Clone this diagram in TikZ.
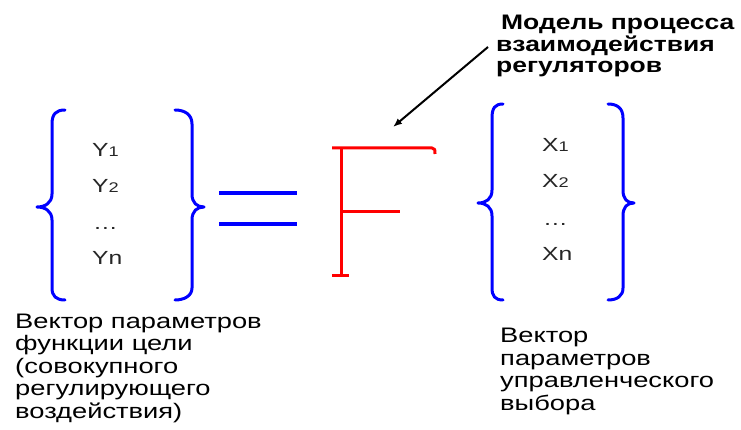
\documentclass[tikz,border=0pt]{standalone}
\usepackage{fontspec}
\setmainfont{Liberation Sans}[FakeStretch=1.3]
\newfontfamily\titlefont{Liberation Sans}[FakeStretch=1.26]
\usetikzlibrary{arrows.meta}
\begin{document}
\begin{tikzpicture}[x=1pt,y=-1pt,
  brace/.style={draw=blue,line width=3pt,line cap=round,line join=round},
  fline/.style={draw=red,line width=3pt},
  eqline/.style={draw=blue,line width=3.5pt},
  vec/.style={inner sep=0pt,anchor=base west,font=\fontsize{19}{19}\selectfont,text=black!85},
  lbl/.style={inner sep=0pt,anchor=base west,align=left,font=\fontsize{21}{22.5}\selectfont},
  ttl/.style={inner sep=0pt,anchor=base west,align=left,font=\titlefont\fontsize{21}{21.5}\selectfont\bfseries}]
\useasboundingbox (0,0) rectangle (741,430);
\newcommand{\smallsub}[1]{{\fontsize{14}{14}\selectfont #1}}
% left vector braces
\draw[brace] (65,110) .. controls (56,110) and (52,114) .. (52,124) -- (52,194)
  .. controls (52,203) and (45,207) .. (37,207) .. controls (45,207) and (52,211) .. (52,220)
  -- (52,288) .. controls (52,296) and (56,300) .. (65,300);
\draw[brace] (175,110) .. controls (184,110) and (192,114) .. (192,124) -- (192,194)
  .. controls (192,203) and (197,207) .. (204,207) .. controls (197,207) and (192,211) .. (192,220)
  -- (192,288) .. controls (192,296) and (184,300) .. (175,300);
\node[vec] (y1) at (92,157) {Y\smallsub{1}};
\node[vec] (y2) at (92,193) {Y\smallsub{2}};
\node[vec] (yd) at (93,230) {…};
\node[vec] (yn) at (92,265) {Yn};
% equals
\draw[eqline] (219,193) -- (297,193);
\draw[eqline] (219,224) -- (297,224);
% F
\draw[fline,line join=round] (332,148) -- (432,148) .. controls (435,148) and (435,150) .. (435,154);
\draw[fline] (341,148) -- (341,275);
\draw[fline] (332,275) -- (349,275);
\draw[fline] (341,212) -- (400,212);
% right vector braces
\draw[brace] (503,104) .. controls (495,104) and (492,108) .. (492,118) -- (492,190)
  .. controls (492,199) and (486,203) .. (478,203) .. controls (486,203) and (492,207) .. (492,216)
  -- (492,288) .. controls (492,296) and (495,300) .. (503,300);
\draw[brace] (608,104) .. controls (617,104) and (623,108) .. (623,118) -- (623,190)
  .. controls (623,199) and (627,203) .. (634,203) .. controls (627,203) and (623,207) .. (623,216)
  -- (623,288) .. controls (623,296) and (617,300) .. (608,300);
\node[vec] (x1) at (542,152) {X\smallsub{1}};
\node[vec] (x2) at (542,188) {X\smallsub{2}};
\node[vec] (xd) at (543,226) {…};
\node[vec] (xn) at (542,261) {Xn};
% title and arrow
\node[ttl] (title) at (496,73) {\hspace*{5pt}Модель процесса\\взаимодействия\\регуляторов};
\coordinate (as) at (488,47);
\coordinate (ae) at (393,127);
\draw[line width=2pt,-{Latex[length=9pt,width=7pt]}] (as) -- (ae);
% captions
\node[lbl] (capl) at (15,418) {Вектор параметров\\функции цели\\(совокупного\\регулирующего\\воздействия)};
\node[lbl] (capr) at (500,410) {Вектор\\параметров\\управленческого\\выбора};
\end{tikzpicture}
\end{document}
